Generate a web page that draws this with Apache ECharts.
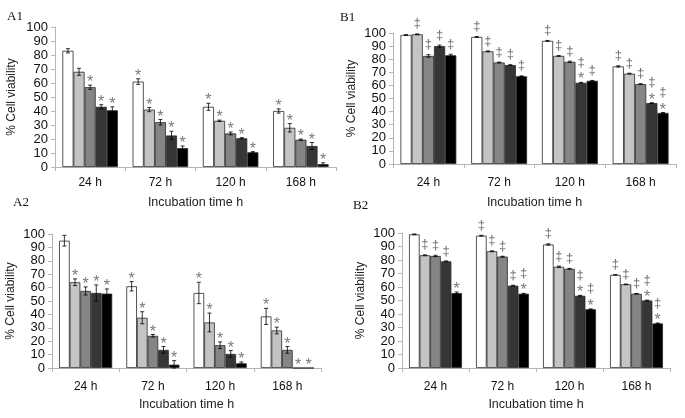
<!DOCTYPE html>
<html><head><meta charset="utf-8">
<script src="https://cdn.jsdelivr.net/npm/echarts@6/dist/echarts.min.js"></script>
<style>html,body{margin:0;padding:0;background:#fff}#c{width:685px;height:418px}</style>
</head><body><div id="c"></div>
<script>
const categories = ['24 h', '72 h', '120 h', '168 h'];
const yTicks = [0, 10, 20, 30, 40, 50, 60, 70, 80, 90, 100];

// Panel A1
const a1Values = [
  [83, 61, 43, 40],
  [68, 41, 33, 28],
  [57, 32, 24, 19.5],
  [43, 22.5, 20.5, 15],
  [40.5, 13.5, 10.5, 2]
];
const a1Errors = [
  [1.5, 2, 2.5, 1.5],
  [2.5, 1.5, 0.5, 3],
  [1.5, 2, 1, 0.5],
  [1.5, 3, 0.5, 2.5],
  [2.5, 1.5, 0.5, 1]
];
const a1Marks = [
  ['', '*', '*', '*'],
  ['', '*', '*', '*'],
  ['*', '*', '*', '*'],
  ['*', '*', '*', '*'],
  ['*', '*', '*', '*']
];

// Panel B1
const b1Values = [
  [98.5, 97, 94, 74.5],
  [99, 86, 82.5, 69],
  [82.5, 77.5, 78, 61],
  [90, 75.5, 62, 46.5],
  [83, 67, 63.5, 39]
];
const b1Errors = [
  [0.3, 0.3, 0.3, 0.5],
  [0.3, 0.3, 0.3, 0.3],
  [1, 0.3, 0.5, 0.3],
  [0.8, 0.3, 0.3, 0.3],
  [0.8, 0.3, 0.3, 0.3]
];
const b1Marks = [
  ['', '‡', '‡', '‡'],
  ['‡', '‡', '‡', '‡'],
  ['‡', '‡', '‡', '‡'],
  ['‡', '‡', '‡*', '‡*'],
  ['‡', '‡', '‡', '‡*']
];

// Panel A2
const a2Values = [
  [95, 61, 56, 38.5],
  [64, 37.5, 34, 28],
  [57.5, 24, 17, 13.5],
  [56, 13.5, 10.5, 0],
  [55.5, 2.5, 3.5, 0]
];
const a2Errors = [
  [4, 3.5, 8, 6],
  [2.5, 4.5, 7, 2.5],
  [3, 1, 2.5, 2.5],
  [6, 2.5, 2.5, 0],
  [3.5, 3, 1, 0]
];
const a2Marks = [
  ['', '*', '*', '*'],
  ['*', '*', '*', '*'],
  ['*', '*', '*', '*'],
  ['*', '*', '*', '*'],
  ['*', '*', '*', '*']
];

// Panel B2
const b2Values = [
  [99, 98, 91.5, 69],
  [83.5, 86.5, 75, 62],
  [83, 82.5, 73.5, 55],
  [79, 61, 53.5, 50],
  [55.5, 55, 43.5, 33]
];
const b2Errors = [
  [0.3, 0.3, 0.5, 0.2],
  [0.3, 0.3, 0.5, 0.2],
  [0.5, 0.3, 0.3, 0.2],
  [0.3, 0.3, 0.3, 0.3],
  [0.8, 0.3, 0.3, 0.3]
];
const b2Marks = [
  ['', '‡', '‡', '‡'],
  ['‡', '‡', '‡', '‡'],
  ['‡', '‡', '‡', '‡'],
  ['‡', '‡', '‡*', '‡*'],
  ['*', '‡*', '‡*', '‡*']
];

const barColors = ['#ffffff', '#c4c4c4', '#858585', '#363636', '#000000'];
const CAT_GAP = 0.21;
const FONT = '"Liberation Sans", Arial, sans-serif';

const panels = [
  {label: 'A1', vals: a1Values, errs: a1Errors, marks: a1Marks,
   grid: {left: 55, top: 27, width: 281, height: 140}, labelMargin: 10, nameGapX: 29, nameGapY: 37,
   tag: {x: 7, y: 10}},
  {label: 'B1', vals: b1Values, errs: b1Errors, marks: b1Marks,
   grid: {left: 393, top: 33, width: 283, height: 131}, labelMargin: 13, nameGapX: 32, nameGapY: 35,
   tag: {x: 340, y: 11}},
  {label: 'A2', vals: a2Values, errs: a2Errors, marks: a2Marks,
   grid: {left: 52, top: 234, width: 269, height: 134}, labelMargin: 13, nameGapX: 30, nameGapY: 35,
   tag: {x: 13, y: 196}},
  {label: 'B2', vals: b2Values, errs: b2Errors, marks: b2Marks,
   grid: {left: 402, top: 233, width: 268, height: 135}, labelMargin: 13, nameGapX: 30, nameGapY: 35,
   tag: {x: 353, y: 199}}
];

const grids = [], xAxes = [], yAxes = [], series = [], graphics = [];

panels.forEach((p, pi) => {
  grids.push(Object.assign({containLabel: false}, p.grid));
  xAxes.push({
    type: 'category', gridIndex: pi, data: categories,
    name: 'Incubation time h', nameLocation: 'middle', nameGap: p.nameGapX,
    nameTextStyle: {fontFamily: FONT, fontSize: 12.5, color: '#222'},
    axisLine: {lineStyle: {color: '#b5b5b5', width: 1}},
    axisTick: {show: true, length: 4, lineStyle: {color: '#b5b5b5'}},
    axisLabel: {fontFamily: FONT, fontSize: 12, color: '#111', margin: p.labelMargin},
    splitLine: {show: false}
  });
  yAxes.push({
    type: 'value', gridIndex: pi, min: 0, max: 100, interval: 10,
    name: '% Cell viability', nameLocation: 'middle', nameGap: p.nameGapY, nameRotate: 90,
    nameTextStyle: {fontFamily: FONT, fontSize: 12, color: '#222'},
    axisLine: {show: true, lineStyle: {color: '#b5b5b5', width: 1}},
    axisTick: {show: true, length: 4, lineStyle: {color: '#b5b5b5'}},
    axisLabel: {fontFamily: FONT, fontSize: 13, color: '#111', margin: 7,
      formatter: v => yTicks.indexOf(v) >= 0 ? String(v) : ''},
    splitLine: {show: false}
  });
  p.vals.forEach((arr, g) => {
    series.push({
      type: 'bar', xAxisIndex: pi, yAxisIndex: pi, data: arr,
      barGap: '0%', barCategoryGap: (CAT_GAP * 100) + '%',
      itemStyle: {color: barColors[g], borderColor: '#2a2a2a', borderWidth: 0.8},
      silent: true, animation: false
    });
  });
  const items = [];
  p.vals.forEach((arr, g) => arr.forEach((v, c) => {
    items.push({c: c, g: g, v: v, e: p.errs[g][c], m: p.marks[g][c]});
  }));
  series.push({
    type: 'custom', xAxisIndex: pi, yAxisIndex: pi, animation: false, silent: true, z: 5,
    data: items.map(it => [it.c, it.v + it.e, it.v - it.e]),
    encode: {x: 0, y: [1, 2]},
    renderItem: function (params, api) {
      const it = items[params.dataIndex];
      const band = api.size([1, 0])[0];
      const bw = band * (1 - CAT_GAP) / 5;
      const center = api.coord([it.c, 0])[0];
      const x = center - 2.5 * bw + (it.g + 0.5) * bw;
      const yTop = api.coord([it.c, it.v + it.e])[1];
      const yBot = api.coord([it.c, Math.max(0, it.v - it.e)])[1];
      const children = [];
      if (it.e > 0) {
        const st = {stroke: '#000', lineWidth: 0.8};
        children.push({type: 'line', shape: {x1: x, y1: yTop, x2: x, y2: yBot}, style: st});
        children.push({type: 'line', shape: {x1: x - 2, y1: yTop, x2: x + 2, y2: yTop}, style: st});
        children.push({type: 'line', shape: {x1: x - 2, y1: yBot, x2: x + 2, y2: yBot}, style: st});
      }
      // stacked marks, last character nearest to the bar
      const chars = it.m.split('');
      let base = yTop - 2;
      for (let k = chars.length - 1; k >= 0; k--) {
        const ch = chars[k];
        if (ch === '*') {
          const cy = base - 4;
          children.push({type: 'text', x: x, y: cy + 3.7, style: {text: '*', fill: '#7a7a7a',
            font: '16px ' + FONT, textAlign: 'center', textVerticalAlign: 'middle'}});
          base = cy - 6;
        } else {
          const cy = base - 8;
          children.push({type: 'text', x: x, y: cy, style: {text: '‡', fill: '#6a6a6a',
            font: '13px ' + FONT, textAlign: 'center', textVerticalAlign: 'middle'}});
          base = cy - 6;
        }
      }
      return {type: 'group', children: children};
    }
  });
  graphics.push({type: 'text', left: p.tag.x, top: p.tag.y,
    style: {text: p.label, font: '13px "Liberation Serif", "Times New Roman", serif', fill: '#111'}});
});

const chart = echarts.init(document.getElementById('c'), null, {renderer: 'canvas'});
chart.setOption({
  animation: false,
  backgroundColor: '#fff',
  grid: grids, xAxis: xAxes, yAxis: yAxes, series: series, graphic: graphics
});
</script></body></html>
